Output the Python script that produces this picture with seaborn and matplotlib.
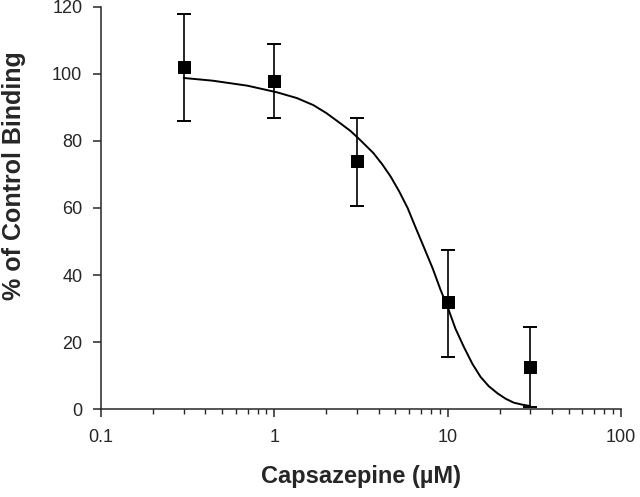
import numpy as np
import pandas as pd
import matplotlib
matplotlib.use("Agg")
import matplotlib.pyplot as plt
import seaborn as sns
from matplotlib.ticker import LogLocator, FixedLocator, NullFormatter

# measured points
conc = [0.3, 1, 3, 10, 30]
binding = [102, 98, 74, 32, 12.5]
err_hi = [118, 109, 87, 47.5, 24.5]
err_lo = [86, 87, 60.6, 15.5, 0.6]

# fitted curve
curve_x = [0.3, 0.44, 0.70, 1.04, 1.35, 1.68, 2.0, 2.40, 2.75, 3.1, 3.73,
           4.2, 4.69, 5.25, 5.88, 6.5, 7.27, 8.2, 9.12, 10.0, 11.1, 12.4,
           13.9, 15.5, 17.3, 19.4, 21.6, 24.1, 27.0, 30.0]
curve_y = [98.8, 98.0, 96.5, 94.5, 92.8, 90.7, 88.3, 85.3, 83.0, 80.5, 76.4,
           73.0, 69.4, 65.0, 60.0, 54.5, 48.5, 42.0, 35.5, 30.5, 24.0, 18.6,
           13.5, 9.6, 6.8, 4.7, 3.1, 1.9, 1.3, 0.9]

yticks = [0, 20, 40, 60, 80, 100, 120]
xticks = [0.1, 1, 10, 100]
xticklabels = ["0.1", "1", "10", "100"]

pts = pd.DataFrame({"conc": conc, "binding": binding})
fit = pd.DataFrame({"conc": curve_x, "binding": curve_y})

sns.set_style("ticks")
plt.rcParams["font.family"] = ["Liberation Sans", "DejaVu Sans"]

fig = plt.figure(figsize=(6.4, 4.97), dpi=100)
ax = fig.add_axes([0.158, 0.177, 0.812, 0.809])

sns.lineplot(data=fit, x="conc", y="binding", ax=ax, color="black",
             linewidth=1.4, sort=False)
ax.errorbar(conc, binding,
            yerr=[np.array(binding) - np.array(err_lo), np.array(err_hi) - np.array(binding)],
            fmt="none", ecolor="black", elinewidth=1.2, capsize=4.7, capthick=1.4)
sns.scatterplot(data=pts, x="conc", y="binding", ax=ax, marker="s", s=80,
                color="black", edgecolor="black", zorder=5)

ax.set_xscale("log")
ax.set_xlim(0.1, 100)
ax.set_ylim(0, 120)
ax.xaxis.set_major_locator(FixedLocator(xticks))
ax.set_xticklabels(xticklabels)
ax.xaxis.set_minor_locator(LogLocator(base=10, subs=np.arange(2, 10)))
ax.xaxis.set_minor_formatter(NullFormatter())
ax.set_yticks(yticks)

sns.despine(ax=ax)
for s in ["left", "bottom"]:
    ax.spines[s].set_linewidth(1.1)
ax.tick_params(axis="both", which="major", length=5.5, width=1.1, labelsize=13,
               direction="out")
ax.tick_params(axis="x", which="major", pad=9)
ax.tick_params(axis="y", which="major", pad=8)
ax.tick_params(axis="x", which="minor", length=3.6, width=1.0, direction="out")

ax.set_xlabel("Capsazepine (µM)", fontsize=17, fontweight="bold")
ax.set_ylabel("% of Control Binding", fontsize=18, fontweight="bold")
ax.xaxis.set_label_coords(0.5, -0.14)
ax.yaxis.set_label_coords(-0.145, 0.58)

fig.savefig("out.png", dpi=100)
